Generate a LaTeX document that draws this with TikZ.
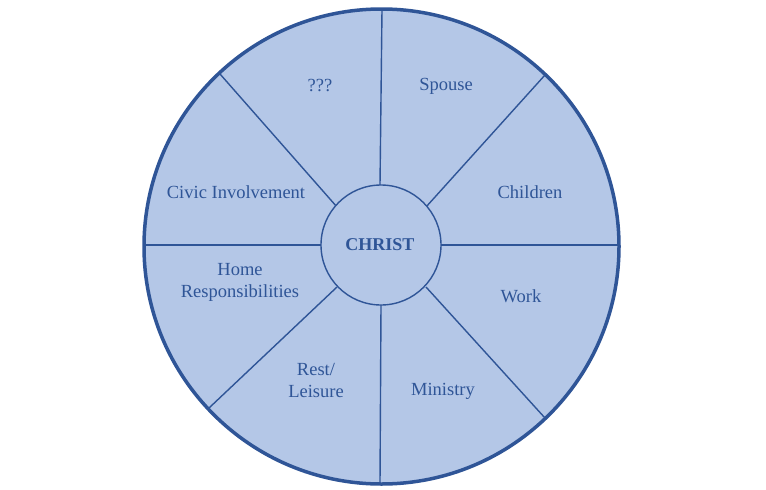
\documentclass[tikz,border=0pt]{standalone}
\usepackage{fontspec}
\setmainfont{Liberation Serif}
\definecolor{fillb}{HTML}{B4C7E7}
\definecolor{lineb}{HTML}{2F5597}
\definecolor{textb}{HTML}{2F5597}
\begin{document}
\begin{tikzpicture}[x=1pt,y=-1pt,
  lbl/.style={text=textb,font=\fontsize{18.5}{22}\selectfont,align=center,inner sep=0pt},
  spoke/.style={draw=lineb,line width=1.4pt}]
\useasboundingbox (0,0) rectangle (766,490);
\node[circle,draw=lineb,fill=fillb,line width=3.5pt,minimum size=475pt,inner sep=0pt] (outer) at (381.5,246.5) {};
% spokes
\draw[spoke] (380,185) -- (382,10);
\draw[spoke] (426,207) -- (545,75);
\draw[spoke] (441,245) -- (620,245);
\draw[spoke] (426,287) -- (545,418);
\draw[spoke] (381,305) -- (380,484);
\draw[spoke] (337,287) -- (209,408);
\draw[spoke] (321,245) -- (143,245);
\draw[spoke] (337,207) -- (220,74);
\node[circle,draw=lineb,fill=fillb,line width=1.4pt,minimum size=120pt,inner sep=0pt] (core) at (381,245) {};
\node[lbl,font=\bfseries\fontsize{18}{22}\selectfont] (christ) at (380,245) {CHRIST};
\node[lbl] (q) at (320,86) {???};
\node[lbl] (spouse) at (446,86) {Spouse};
\node[lbl] (children) at (530,192) {Children};
\node[lbl] (work) at (521,296) {Work};
\node[lbl] (ministry) at (443,391) {Ministry};
\node[lbl] (rest) at (316,380) {Rest/\\Leisure};
\node[lbl] (home) at (240,282) {Home\\Responsibilities};
\node[lbl] (civic) at (236,192) {Civic Involvement};
\end{tikzpicture}
\end{document}
